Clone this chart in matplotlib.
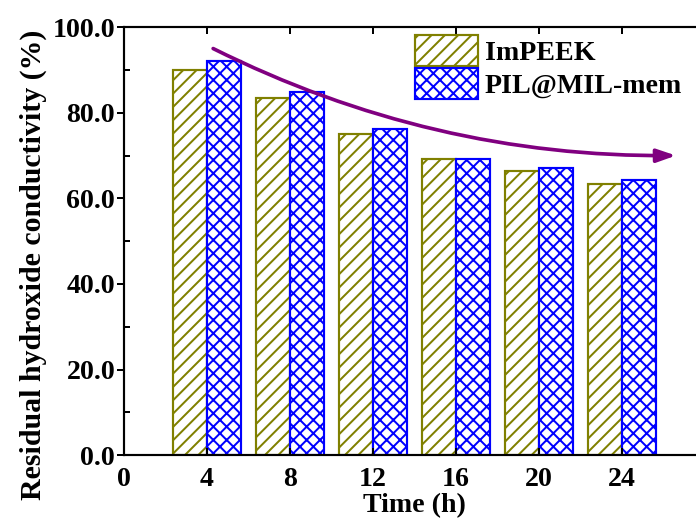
import numpy as np
import matplotlib
matplotlib.use('Agg')
import matplotlib.pyplot as plt
from matplotlib.ticker import MultipleLocator, FormatStrFormatter

# data
times = [4, 8, 12, 16, 20, 24]
impeek = [90.0, 83.5, 75.1, 69.2, 66.4, 63.4]
pil_mil = [92.0, 84.8, 76.1, 69.3, 67.0, 64.4]
series_names = ['ImPEEK', 'PIL@MIL-mem']

plt.rcParams['font.family'] = 'Liberation Serif'
plt.rcParams['font.weight'] = 'bold'
plt.rcParams['hatch.linewidth'] = 1.2

fig = plt.figure(figsize=(5.8, 4.35), dpi=120)
ax = fig.add_axes([0.178, 0.128, 0.835, 0.820])

w = 1.64
x = np.array(times)
ax.bar(x - w / 2, impeek, width=w, facecolor='white', edgecolor='#808000',
       hatch='///', linewidth=1.3, label=series_names[0])
ax.bar(x + w / 2, pil_mil, width=w, facecolor='white', edgecolor='#0000ff',
       hatch='xxx', linewidth=1.3, label=series_names[1])

# trend arrow
ax.annotate('', xy=(26.6, 70.0), xytext=(4.3, 95.0),
            arrowprops=dict(arrowstyle='-|>,head_length=0.95,head_width=0.33',
                            connectionstyle='arc3,rad=0.12',
                            color='#800080', lw=2.2, shrinkA=0, shrinkB=0))

ax.set_xlim(0, 28)
ax.set_ylim(0, 100)
ax.set_xticks([0, 4, 8, 12, 16, 20, 24])
ax.yaxis.set_major_locator(MultipleLocator(20))
ax.yaxis.set_minor_locator(MultipleLocator(10))
ax.yaxis.set_major_formatter(FormatStrFormatter('%.1f'))

ax.tick_params(axis='x', which='major', direction='in', top=True,
               length=4, width=1.2, labelsize=16.7, pad=7)
ax.tick_params(axis='y', which='major', direction='out', length=4.2,
               width=1.2, labelsize=16.7, pad=1)
ax.tick_params(axis='y', which='minor', direction='in', right=True,
               length=3.6, width=1.2)
for s in ax.spines.values():
    s.set_linewidth(1.3)

ax.set_xlabel('Time (h)', fontsize=16.7, fontweight='bold', labelpad=1)
ax.set_ylabel('Residual hydroxide conductivity (%)', fontsize=17.9,
              fontweight='bold')
ax.yaxis.set_label_coords(-0.133, 0.444)

ax.legend(loc='upper left', bbox_to_anchor=(0.501, 0.981), frameon=False,
          fontsize=16.8, handlelength=2.25, handleheight=1.3,
          handletextpad=0.25, labelspacing=0.08, borderpad=0.0,
          borderaxespad=0.0)

fig.savefig('out.png', dpi=120)
